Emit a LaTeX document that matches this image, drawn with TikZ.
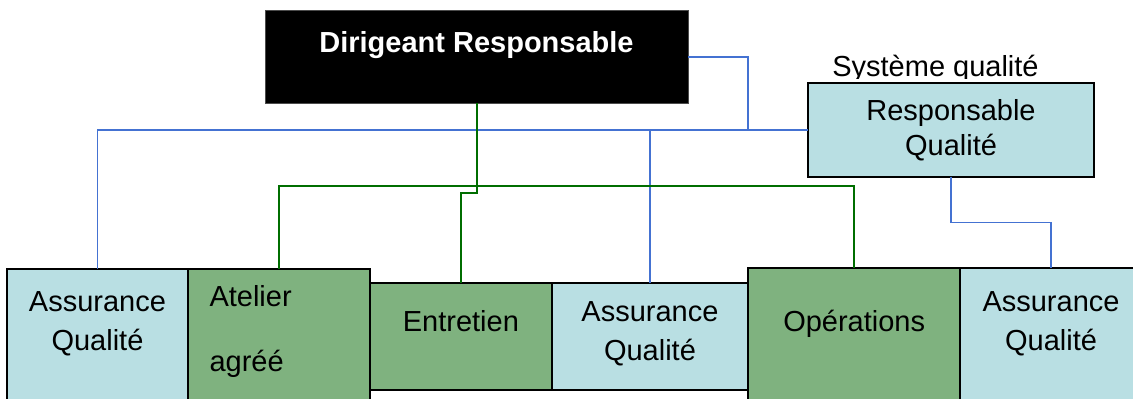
\documentclass[tikz,border=0pt]{standalone}
\usepackage{fontspec}
\setmainfont{Liberation Sans}
\definecolor{aqfill}{RGB}{185,223,227}
\definecolor{grfill}{RGB}{127,178,127}
\definecolor{blline}{RGB}{68,114,210}
\definecolor{grline}{RGB}{0,110,0}
\begin{document}
\begin{tikzpicture}[x=1pt,y=-1pt,
 box/.style={draw=black, line width=2pt, inner sep=0pt, outer sep=0pt, anchor=north west},
 aqbox/.style={box, fill=aqfill},
 grbox/.style={box, fill=grfill},
 txt/.style={anchor=base, inner sep=0pt, font=\fontsize{29}{35}\selectfont},
 bl/.style={draw=blline, line width=1.6pt},
 gl/.style={draw=grline, line width=2pt}]
\useasboundingbox (0,0) rectangle (1133,399);
\clip (0,0) rectangle (1133,399);

% connectors coordinates
\coordinate (bj) at (747.7,130);
\coordinate (gh) at (476.5,185.7);
\coordinate (gj) at (476.5,192.7);
\coordinate (bk) at (951,222.3);

% boxes
\node[box, draw=black!70, line width=1pt, fill=black, minimum width=423pt, minimum height=92.6pt] (dr) at (265,10.7) {};
\node[aqbox, minimum width=286.6pt, minimum height=93.4pt] (rq) at (807.7,83.3) {};
\node[aqbox, minimum width=181.6pt, minimum height=150pt] (aq1) at (6.7,268.7) {};
\node[grbox, minimum width=181.7pt, minimum height=150pt] (at) at (188.3,268.7) {};
\node[grbox, minimum width=181.7pt, minimum height=106.7pt] (en) at (370,283.3) {};
\node[aqbox, minimum width=196.6pt, minimum height=106.7pt] (aq2) at (551.7,283.3) {};
\node[grbox, minimum width=211.7pt, minimum height=150pt] (op) at (748.3,268.3) {};
\node[aqbox, minimum width=182pt, minimum height=150pt] (aq3) at (960,268.3) {};

% blue connectors
\draw[bl] (dr.east) -| (bj) -- (rq.west);
\draw[bl] (aq1.north) |- (bj);
\draw[bl] (aq2.north) -- (aq2.north |- bj);
\draw[bl] (rq.south) -- (bk) -| (aq3.north);

% green connectors
\draw[gl] (at.north) -- (at.north |- gh) -| (op.north);
\draw[gl] (dr.south) -- (gj) -| (en.north);

% texts
\node[txt, text=white, font=\fontsize{29}{35}\selectfont\bfseries] (tdr) at (476.5,52.7) {Dirigeant Responsable};
\begin{scope}
\clip (800,40) rectangle (1100,78.5);
\node[txt] (tsq) at (935.5,76) {Système qualité};
\end{scope}
\node[txt] (trq1) at (951,120) {Responsable};
\node[txt] (trq2) at (951,155) {Qualité};
\node[txt] (ta1) at (97.5,311.7) {Assurance};
\node[txt] (ta1b) at (97.5,350.7) {Qualité};
\node[txt, anchor=base west] (tat1) at (209.3,306.7) {Atelier};
\node[txt, anchor=base west] (tat2) at (209.3,371.7) {agréé};
\node[txt] (ten) at (460.9,331.7) {Entretien};
\node[txt] (ta2) at (650,321.7) {Assurance};
\node[txt] (ta2b) at (650,360.7) {Qualité};
\node[txt] (top) at (854.2,331) {Opérations};
\node[txt] (ta3) at (1051,311.7) {Assurance};
\node[txt] (ta3b) at (1051,350) {Qualité};
\end{tikzpicture}
\end{document}
